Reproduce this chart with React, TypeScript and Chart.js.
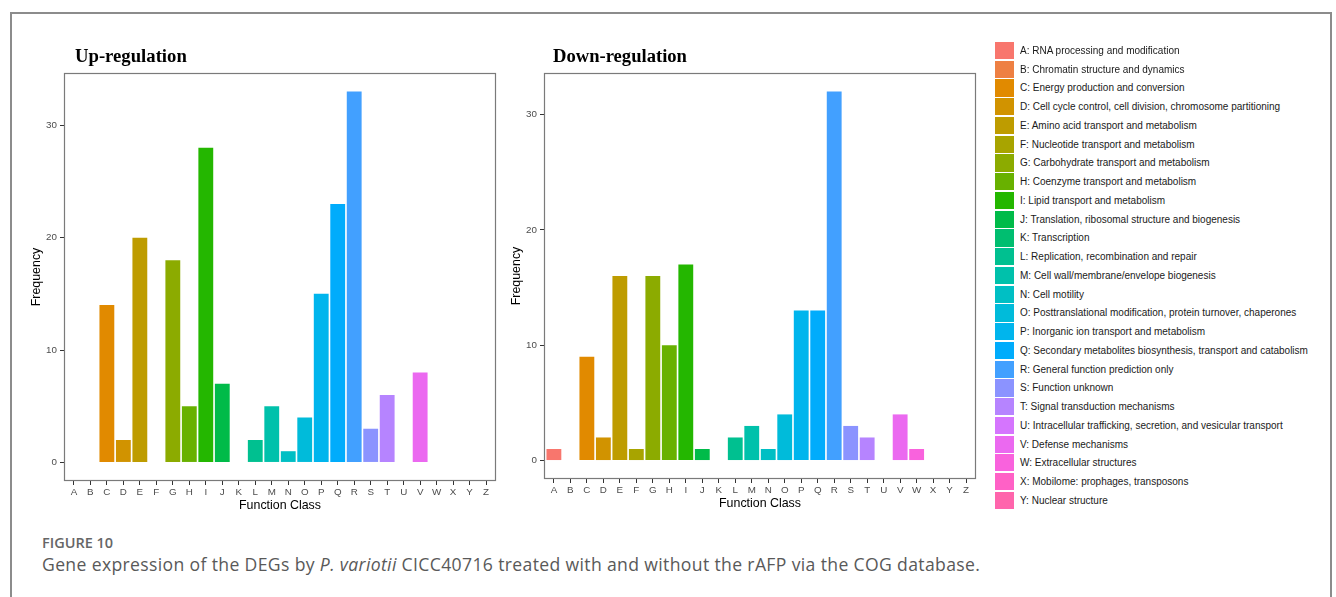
import React, { useEffect, useRef } from "react";
import { Chart, registerables } from "chart.js";

Chart.register(...registerables);

// ---------- data ----------
const categories = ["A","B","C","D","E","F","G","H","I","J","K","L","M","N","O","P","Q","R","S","T","U","V","W","X","Y","Z"];
const upValues = [0,0,14,2,20,0,18,5,28,7,0,2,5,1,4,15,23,33,3,6,0,8,0,0,0,0];
const downValues = [1,0,9,2,16,1,16,10,17,1,0,2,3,1,4,13,13,32,3,2,0,4,1,0,0,0];
const yTicks = [0, 10, 20, 30];
const panelTitles = ["Up-regulation", "Down-regulation"];
const legendLabels = [
  "A: RNA processing and modification",
  "B: Chromatin structure and dynamics",
  "C: Energy production and conversion",
  "D: Cell cycle control, cell division, chromosome partitioning",
  "E: Amino acid transport and metabolism",
  "F: Nucleotide transport and metabolism",
  "G: Carbohydrate transport and metabolism",
  "H: Coenzyme transport and metabolism",
  "I: Lipid transport and metabolism",
  "J: Translation, ribosomal structure and biogenesis",
  "K: Transcription",
  "L: Replication, recombination and repair",
  "M: Cell wall/membrane/envelope biogenesis",
  "N: Cell motility",
  "O: Posttranslational modification, protein turnover, chaperones",
  "P: Inorganic ion transport and metabolism",
  "Q: Secondary metabolites biosynthesis, transport and catabolism",
  "R: General function prediction only",
  "S: Function unknown",
  "T: Signal transduction mechanisms",
  "U: Intracellular trafficking, secretion, and vesicular transport",
  "V: Defense mechanisms",
  "W: Extracellular structures",
  "X: Mobilome: prophages, transposons",
  "Y: Nuclear structure",
];
const captionLabel = "FIGURE 10";

// ---------- palette (ggplot2 default hue palette over the 26 class letters) ----------
function hclToHex(h: number, c: number, l: number): string {
  const hr = (h * Math.PI) / 180;
  const U = c * Math.cos(hr);
  const V = c * Math.sin(hr);
  const Xn = 95.047, Yn = 100, Zn = 108.883;
  const Y = l > 8 ? Yn * Math.pow((l + 16) / 116, 3) : (Yn * l) / 903.3;
  const t = Xn + 15 * Yn + 3 * Zn;
  const un = (4 * Xn) / t, vn = (9 * Yn) / t;
  const up = U / (13 * l) + un;
  const vp = V / (13 * l) + vn;
  const X = (9 * Y * up) / (4 * vp);
  const Z = -X / 3 - 5 * Y + (3 * Y) / vp;
  const x = X / 100, y = Y / 100, z = Z / 100;
  const lin = [
    3.2404542 * x - 1.5371385 * y - 0.4985314 * z,
    -0.969266 * x + 1.8760108 * y + 0.041556 * z,
    0.0556434 * x - 0.2040259 * y + 1.0572252 * z,
  ];
  return (
    "#" +
    lin
      .map((v) => {
        let s = v <= 0.0031308 ? 12.92 * v : 1.055 * Math.pow(v, 1 / 2.4) - 0.055;
        s = Math.min(1, Math.max(0, s));
        return Math.round(s * 255).toString(16).padStart(2, "0");
      })
      .join("")
  );
}
const palette = categories.map((_, i) => hclToHex(15 + (360 / categories.length) * i, 100, 65));

const SANS = "'Liberation Sans', Arial, Helvetica, sans-serif";

const panelBorder = {
  id: "panelBorder",
  afterDraw(chart: any) {
    const { ctx, chartArea } = chart;
    const l = Math.round(chartArea.left) + 0.5;
    const t = Math.round(chartArea.top) + 0.5;
    const r = Math.round(chartArea.right) - 0.5;
    const b = Math.round(chartArea.bottom) - 0.5;
    ctx.save();
    ctx.strokeStyle = "#7a7a7a";
    ctx.lineWidth = 1.2;
    ctx.strokeRect(l, t, r - l, b - t);
    ctx.restore();
  },
};

function Panel(props: { values: number[]; left: number; top: number; width: number; height: number }) {
  const ref = useRef<HTMLCanvasElement | null>(null);
  const { values, left, top, width, height } = props;
  useEffect(() => {
    if (!ref.current) return;
    const vmax = Math.max(...values);
    const tickFont = { family: SANS, size: 9.8 };
    const titleFont = { family: SANS, size: 12.4 };
    const gridCfg = {
      display: true,
      offset: false,
      drawOnChartArea: false,
      drawTicks: true,
      tickLength: 4,
      color: "#333333",
      lineWidth: 1,
    };
    const chart = new Chart(ref.current, {
      type: "bar",
      data: {
        datasets: [
          {
            data: values.map((v, i) => ({ x: i, y: v })),
            backgroundColor: values.map((_, i) => palette[i]),
            borderWidth: 0,
            barPercentage: 0.9,
            categoryPercentage: 1,
          } as any,
        ],
      },
      options: {
        responsive: false,
        animation: false,
        events: [],
        layout: { padding: { top: 33, right: 8, left: 0, bottom: 0 } },
        plugins: { legend: { display: false }, tooltip: { enabled: false }, title: { display: false } },
        scales: {
          x: {
            type: "linear",
            min: -0.6,
            max: categories.length - 1 + 0.6,
            offset: false,
            grid: gridCfg,
            border: { display: false },
            afterBuildTicks: (s: any) => {
              s.ticks = categories.map((_, i) => ({ value: i }));
            },
            afterFit: (s: any) => {
              s.height = 39;
            },
            ticks: {
              autoSkip: false,
              maxRotation: 0,
              padding: 1.5,
              font: tickFont,
              color: "#4d4d4d",
              callback: (v: any) => categories[Math.round(Number(v))] ?? "",
            },
            title: {
              display: true,
              text: "Function Class",
              font: titleFont,
              color: "#000000",
              padding: { top: 0, bottom: 7 },
            },
          },
          y: {
            type: "linear",
            min: -0.05 * vmax,
            max: 1.05 * vmax,
            grid: gridCfg,
            border: { display: false },
            afterBuildTicks: (s: any) => {
              s.ticks = yTicks.map((v) => ({ value: v }));
            },
            afterFit: (s: any) => {
              s.width = 50;
            },
            ticks: { padding: 3, font: tickFont, color: "#4d4d4d" },
            title: {
              display: true,
              text: "Frequency",
              font: titleFont,
              color: "#000000",
              padding: { top: 15.6, bottom: 0 },
            },
          },
        },
      } as any,
      plugins: [panelBorder],
    });
    return () => chart.destroy();
  }, [values]);
  return (
    <canvas
      ref={ref}
      width={width}
      height={height}
      style={{ position: "absolute", left, top, width, height }}
    />
  );
}

export default function App() {
  return (
    <div
      style={{
        position: "absolute",
        left: 0,
        top: 0,
        width: 1336,
        height: 597,
        overflow: "hidden",
        background: "#ffffff",
      }}
    >
      <div
        style={{
          position: "absolute",
          left: 10,
          top: 12,
          width: 1322,
          height: 640,
          boxSizing: "border-box",
          border: "2px solid #8c8c8c",
        }}
      />
      <Panel values={upValues} left={14} top={40} width={490} height={480} />
      <Panel values={downValues} left={494} top={40} width={490} height={478} />
      {panelTitles.map((t, i) => (
        <div
          key={t}
          style={{
            position: "absolute",
            left: i === 0 ? 75 : 553,
            top: 46.6,
            fontFamily: "'Liberation Serif', 'Times New Roman', serif",
            fontWeight: 700,
            fontSize: i === 0 ? 18.7 : 18.6,
            lineHeight: 1,
            color: "#000000",
            whiteSpace: "nowrap",
          }}
        >
          {t}
        </div>
      ))}
      {legendLabels.map((label, i) => {
        const top = 42 + 18.74 * i;
        return (
          <React.Fragment key={label}>
            <div
              style={{
                position: "absolute",
                left: 995,
                top,
                width: 18.5,
                height: 17.2,
                background: palette[i],
              }}
            />
            <div
              style={{
                position: "absolute",
                left: 1020,
                top: top + 4,
                fontFamily: SANS,
                fontSize: 10,
                lineHeight: "10px",
                color: "#1a1a1a",
                whiteSpace: "nowrap",
              }}
            >
              {label}
            </div>
          </React.Fragment>
        );
      })}
      <div
        style={{
          position: "absolute",
          left: 42,
          top: 535.5,
          fontFamily: "'Open Sans', sans-serif",
          fontWeight: 600,
          fontSize: 14.5,
          lineHeight: 1,
          color: "#666666",
          whiteSpace: "nowrap",
        }}
      >
        {captionLabel}
      </div>
      <div
        style={{
          position: "absolute",
          left: 42,
          top: 555.6,
          fontFamily: "'Open Sans', sans-serif",
          fontSize: 17.6,
          letterSpacing: "0.35px",
          lineHeight: 1,
          color: "#595959",
          whiteSpace: "nowrap",
        }}
      >
        Gene expression of the DEGs by <i>P. variotii</i> CICC40716 treated with and without the rAFP via the COG database.
      </div>
    </div>
  );
}
